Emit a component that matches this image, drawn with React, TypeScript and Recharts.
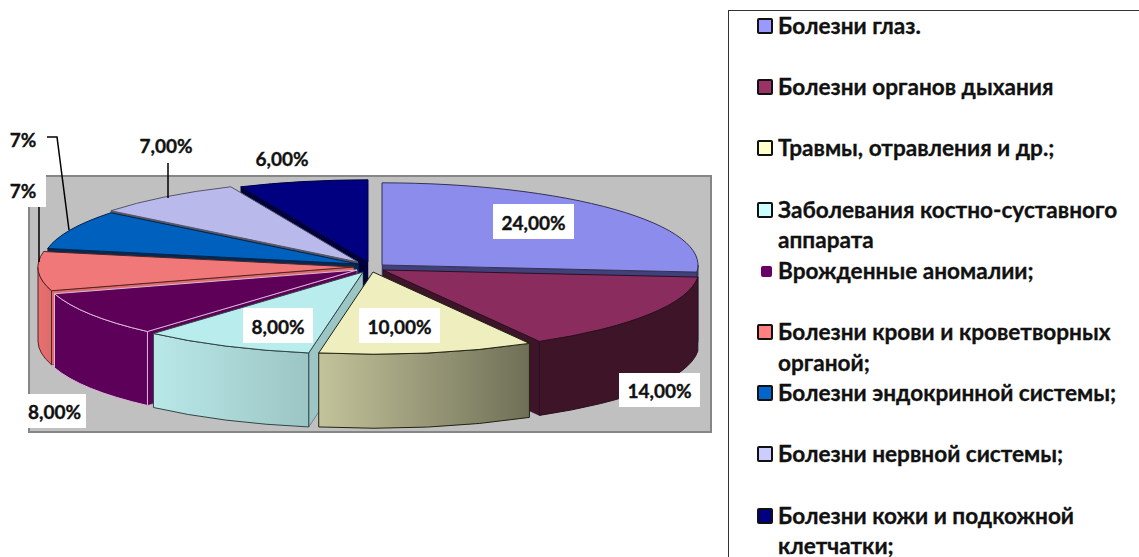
import { PieChart, Pie, Legend } from 'recharts'

const categories = [
  'Болезни глаз.',
  'Болезни органов дыхания',
  'Травмы, отравления и др.;',
  'Заболевания костно-суставного аппарата',
  'Врожденные аномалии;',
  'Болезни крови и кроветворных органой;',
  'Болезни эндокринной системы;',
  'Болезни нервной системы;',
  'Болезни кожи и подкожной клетчатки;',
]
const values = [24, 14, 10, 8, 8, 7, 7, 7, 6]
const valueLabels = ['24,00%', '14,00%', '10,00%', '8,00%', '8,00%', '7%', '7%', '7,00%', '6,00%']

const data = categories.map((name, i) => ({ name, value: values[i] }))

// styling, same order as categories
const legendColors = ['#9999ff', '#993366', '#ffffcc', '#ccffff', '#660066', '#ff8080', '#0066cc', '#ccccff', '#000080']
const topColors = ['#8c8cec', '#8b2c5e', '#eeeebf', '#b9ecec', '#5e0058', '#f07878', '#0060bd', '#b9b9ec', '#000080']
const wallFrom = ['#40407a', '#3e1428', '#c3c39b', '#b9e8e8', '#5c0059', '#e87070', '#002b55', '#55556e', '#00003c']
const wallTo = ['#40407a', '#3e1428', '#6f6f57', '#9cc5c5', '#5c0059', '#dd6c6c', '#002b55', '#55556e', '#00003c']
const edgeColors = ['#333355', '#2a1020', '#222211', '#334444', '#d9b8d8', '#552222', '#002244', '#555566', '#000040']
const explode = [[20, -3], [21, 2], [11, 4], [1, 4], [-5, 2], [-8, -1], [-4, -4], [-4, -6], [6, -6]]
// back slices first so the front ones cover them
const paintOrder = [8, 7, 6, 5, 0, 1, 4, 3, 2]

// label box [x, y, w, h], optional leader line
const labelBoxes = [
  [493, 204, 81, 35],
  [619, 373, 81, 34],
  [359, 308, 81, 35],
  [243, 308, 70, 35],
  [23, 394, 63, 34],
  [0, 173, 46, 34],
  [0, 122, 46, 34],
  [133, 128, 66, 33],
  [247, 142, 70, 32],
]
const leaders: Record<number, string> = {
  5: '39,207 39,262',
  6: '47,137 57,137 69,230',
  7: '168,163 168,198',
}

const TILT = 0.26
const DEPTH = 74
const RAD = Math.PI / 180

function Slice3D(props: any) {
  const { cx, cy, outerRadius, startAngle, endAngle, name } = props
  const i = categories.indexOf(name)
  const ax = cx + explode[i][0]
  const ay = cy + explode[i][1]
  const rx = outerRadius
  const ry = outerRadius * TILT
  const px = (a: number) => ax + rx * Math.cos(a * RAD)
  const py = (a: number) => ay - ry * Math.sin(a * RAD)
  const large = startAngle - endAngle > 180 ? 1 : 0
  const edge = edgeColors[i]
  const gradId = `wall-${i}`

  const cutWall = (a: number) =>
    `M${ax},${ay} L${px(a)},${py(a)} L${px(a)},${py(a) + DEPTH} L${ax},${ay + DEPTH} Z`

  // outer wall only for the part of the rim facing the viewer
  const from = Math.min(startAngle, 0)
  const to = Math.max(endAngle, -180)
  const hasWall = from > to

  return (
    <g>
      <defs>
        <linearGradient id={gradId} x1="0" y1="0" x2="1" y2="0">
          <stop offset="0%" stopColor={wallFrom[i]} />
          <stop offset="100%" stopColor={wallTo[i]} />
        </linearGradient>
      </defs>
      {Math.cos(startAngle * RAD) < -0.001 && <path d={cutWall(startAngle)} fill={wallTo[i]} stroke={edge} strokeWidth={0.5} />}
      {Math.cos(endAngle * RAD) > 0.001 && <path d={cutWall(endAngle)} fill={wallTo[i]} stroke={edge} strokeWidth={0.5} />}
      {hasWall && (
        <path
          d={`M${px(from)},${py(from)} A${rx},${ry} 0 0 1 ${px(to)},${py(to)} L${px(to)},${py(to) + DEPTH} A${rx},${ry} 0 0 0 ${px(from)},${py(from) + DEPTH} Z`}
          fill={`url(#${gradId})`}
          stroke={edge}
          strokeWidth={1}
        />
      )}
      <path
        d={`M${ax},${ay} L${px(startAngle)},${py(startAngle)} A${rx},${ry} 0 ${large} 1 ${px(endAngle)},${py(endAngle)} Z`}
        fill={topColors[i]}
        stroke={edge}
        strokeWidth={1}
      />
    </g>
  )
}

function renderLabel(props: any) {
  const i = categories.indexOf(props.name)
  const [x, y, w, h] = labelBoxes[i]
  return (
    <g key={i}>
      <rect x={x} y={y} width={w} height={h} fill="#fff" />
      {leaders[i] && <polyline points={leaders[i]} fill="none" stroke="#000" strokeWidth={1.5} />}
      <text
        x={x + w / 2}
        y={y + h / 2 + 8}
        textAnchor="middle"
        fontFamily="Lato, 'Open Sans', sans-serif"
        fontWeight={700}
        fontSize={19}
        fill="#111"
        stroke="#111"
        strokeWidth={0.35}
      >
        {valueLabels[i]}
      </text>
    </g>
  )
}

const noGap = [3, 5, 8]
const LAST = categories.length - 1

function legendText(c: string, i: number) {
  if (i !== LAST) return c
  // last wrapped line sits right at the page edge, so its line box is kept short
  const cut = c.lastIndexOf(' ')
  return (
    <>
      {c.slice(0, cut)}
      <span style={{ display: 'block', lineHeight: '18px', marginTop: 5.6 }}>{c.slice(cut + 1)}</span>
    </>
  )
}

function renderLegend() {
  return (
    <div
      style={{
        fontFamily: "Lato, 'Open Sans', sans-serif",
        fontWeight: 700,
        fontSize: 22.6,
        lineHeight: '30.6px',
        color: '#111',
        WebkitTextStroke: '0.3px #111',
      }}
    >
      {categories.map((c, i) => (
        <div key={c} style={{ position: 'relative', paddingLeft: 49, width: 352, marginBottom: noGap.includes(i) ? 0 : 30.6 }}>
          <span
            style={{
              position: 'absolute',
              boxSizing: 'border-box',
              left: i === 4 ? 32 : 28,
              top: i === 4 ? 10 : 7,
              width: i === 4 ? 11 : 16,
              height: i === 4 ? 11 : 16,
              background: legendColors[i],
              border: i === 4 ? 'none' : '2px solid #111',
              borderRadius: 2,
            }}
          />
          {legendText(c, i)}
        </div>
      ))}
    </div>
  )
}

export default function App() {
  return (
    <div style={{ position: 'absolute', left: 0, top: 0, width: 1139, height: 557, overflow: 'hidden', background: '#fff' }}>
      <div
        style={{
          position: 'absolute',
          left: 28,
          top: 175,
          width: 684,
          height: 258,
          boxSizing: 'border-box',
          background: '#c0c0c0',
          border: '2px solid #868686',
        }}
      />
      <div style={{ position: 'absolute', left: 0, top: 0 }}>
        <PieChart width={1139} height={557} margin={{ top: 0, right: 0, bottom: 0, left: 0 }}>
          {paintOrder.map((slice) => (
            <Pie
              key={slice}
              data={data}
              dataKey="value"
              nameKey="name"
              cx={362}
              cy={268}
              outerRadius={316}
              startAngle={90}
              endAngle={-270}
              legendType="none"
              isAnimationActive={false}
              shape={(props: any) => (categories.indexOf(props.name) === slice ? <Slice3D {...props} /> : <g />)}
            />
          ))}
          <Pie
            data={data}
            dataKey="value"
            nameKey="name"
            cx={362}
            cy={268}
            outerRadius={316}
            startAngle={90}
            endAngle={-270}
            legendType="none"
            isAnimationActive={false}
            shape={() => <g />}
            label={renderLabel}
            labelLine={false}
          />
          <Legend
            content={renderLegend}
            wrapperStyle={{
              position: 'absolute',
              left: 728,
              top: 10,
              width: 411,
              height: 547,
              boxSizing: 'border-box',
              borderLeft: '1.5px solid #333',
              borderTop: '1.5px solid #333',
              overflow: 'hidden',
            }}
          />
        </PieChart>
      </div>
    </div>
  )
}
